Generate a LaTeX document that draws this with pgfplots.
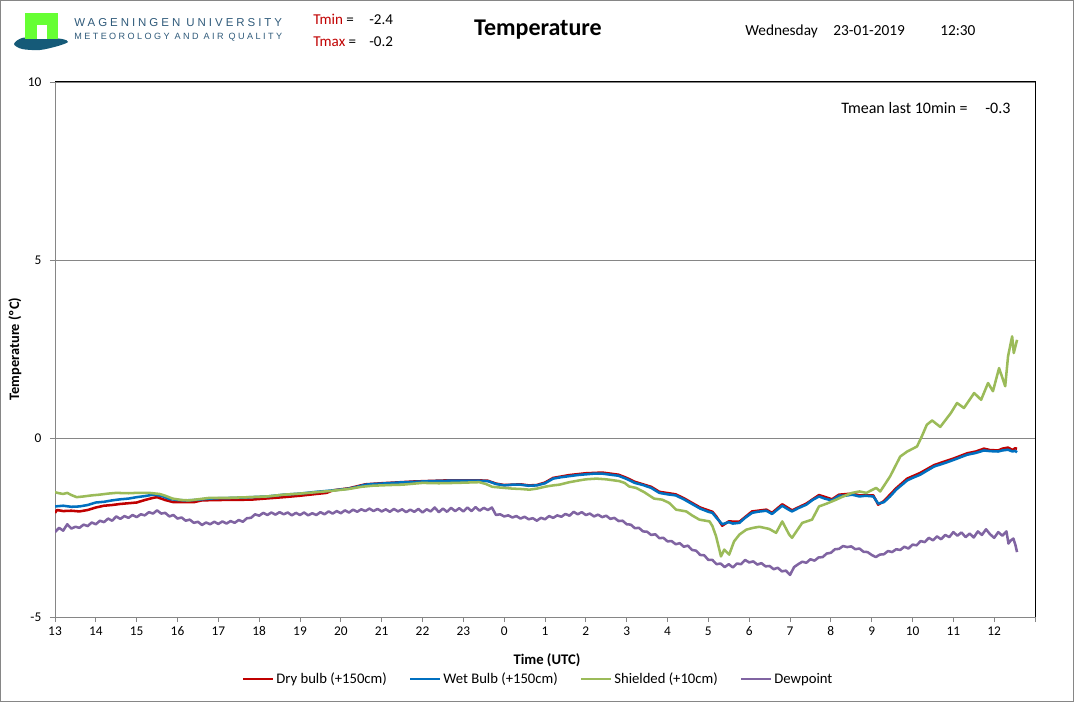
\documentclass[border=0pt]{standalone}
\usepackage{fontspec}
\setmainfont{Carlito}
\newfontfamily\wurfont[LetterSpace=26]{Liberation Sans}
\newfontfamily\wursmall[LetterSpace=27]{Liberation Sans}
\usepackage{pgfplots}
\pgfplotsset{compat=1.18}
\definecolor{dryc}{HTML}{C00000}
\definecolor{wetc}{HTML}{0070C0}
\definecolor{shc}{HTML}{9BBB59}
\definecolor{dewc}{HTML}{8064A2}
\definecolor{gridc}{HTML}{868686}
\definecolor{logog}{HTML}{66FF33}
\definecolor{logob}{HTML}{155A78}
\definecolor{wurtext}{HTML}{2F5A7A}
\begin{document}
\begin{tikzpicture}
\begin{scope}[x=0.75pt,y=-0.75pt]
\draw[gridc, line width=0.75pt] (0.5,0.5) rectangle (1073.5,701.5);
% logo
\fill[logob] plot[smooth cycle] coordinates {(14,44) (22,38) (40,37) (62,39) (68,42) (58,46) (40,50) (22,49)};
\fill[logog] (25,13) rectangle (58,39);
\fill[white] (37,25) rectangle (47,39.5);
\node[anchor=base west, inner sep=0pt, text=wurtext] at (74,27) {\wurfont\fontsize{8.6}{10}\selectfont WAGENINGEN UNIVERSITY};
\node[anchor=base west, inner sep=0pt, text=wurtext] at (74,39.5) {\wursmall\fontsize{6.8}{8}\selectfont METEOROLOGY AND AIR QUALITY};
\node[anchor=base west, inner sep=0pt] at (313,25) {\fontsize{11.3}{13}\selectfont\textcolor{dryc}{Tmin} =};
\node[anchor=base west, inner sep=0pt] at (369,25) {\fontsize{11.3}{13}\selectfont -2.4};
\node[anchor=base west, inner sep=0pt] at (313,47) {\fontsize{11.3}{13}\selectfont\textcolor{dryc}{Tmax} =};
\node[anchor=base west, inner sep=0pt] at (369,47) {\fontsize{11.3}{13}\selectfont -0.2};
\node[anchor=base, inner sep=0pt] at (538,36) {\fontsize{18}{20}\selectfont\bfseries Temperature};
\node[anchor=base west, inner sep=0pt] at (745,36) {\fontsize{11.5}{13}\selectfont Wednesday};
\node[anchor=base west, inner sep=0pt] at (833,36) {\fontsize{11.5}{13}\selectfont 23-01-2019};
\node[anchor=base west, inner sep=0pt] at (940,36) {\fontsize{11.5}{13}\selectfont 12:30};
\end{scope}
\begin{axis}[
  at={(41.25pt,-462.75pt)}, anchor=south west,
  scale only axis, width=735pt, height=401.25pt,
  xmin=0, xmax=24, ymin=-5, ymax=10,
  axis x line*=bottom, axis y line*=left,
  axis line style={gridc, line width=0.75pt, -},
  xtick={0,...,24},
  xticklabels={13,14,15,16,17,18,19,20,21,22,23,0,1,2,3,4,5,6,7,8,9,10,11,12,{}},
  ytick={-5,0,5,10},
  yticklabels={-5,0,5,10},
  ymajorgrids, grid style={gridc, line width=0.75pt},
  major tick style={gridc, line width=0.75pt},
  tick align=outside, major tick length=3.75pt,
  ticklabel style={font=\fontsize{10}{12}\selectfont},
  yticklabel style={xshift=-3pt},
  xlabel={Time (UTC)}, ylabel={Temperature (ºC)},
  every axis x label/.style={at={(axis description cs:0.502,-0.080)}, anchor=center, font=\bfseries\fontsize{11}{13}\selectfont},
  every axis y label/.style={at={(axis description cs:-0.041,0.501)}, rotate=90, anchor=center, font=\bfseries\fontsize{10.8}{13}\selectfont},
  legend columns=4,
  legend style={at={(axis description cs:0.493,-0.116)}, anchor=center, draw=none, fill=none,
    font=\fontsize{11}{13}\selectfont, nodes={inner sep=1.5pt},
    /tikz/every even column/.append style={column sep=15pt}},
  legend image code/.code={\draw[#1] (0pt,0pt) -- (22.5pt,0pt);},
  every axis plot/.append style={line width=1.9pt, line join=round},
]
\addplot[dryc] coordinates {(0,-2.08)(0.05,-2.00)(0.2,-2.03)(0.4,-2.02)(0.6,-2.04)(0.8,-2.00)(1.0,-1.93)(1.2,-1.88)(1.4,-1.86)(1.6,-1.83)(1.8,-1.81)(2.0,-1.79)(2.2,-1.72)(2.4,-1.66)(2.5,-1.64)(2.7,-1.72)(2.9,-1.78)(3.1,-1.78)(3.4,-1.78)(3.6,-1.73)(4.0,-1.72)(4.8,-1.71)(5.6,-1.64)(6.0,-1.60)(6.4,-1.55)(6.65,-1.52)(6.8,-1.45)(7.2,-1.39)(7.6,-1.28)(8.0,-1.25)(8.8,-1.20)(9.6,-1.17)(10.4,-1.17)(10.6,-1.18)(10.8,-1.26)(11.0,-1.30)(11.4,-1.28)(11.6,-1.31)(11.8,-1.30)(12.0,-1.23)(12.2,-1.10)(12.6,-1.02)(13.0,-0.97)(13.4,-0.95)(13.8,-1.01)(14.0,-1.10)(14.2,-1.21)(14.6,-1.35)(14.8,-1.49)(15.2,-1.56)(15.4,-1.67)(15.8,-1.93)(16.1,-2.05)(16.2,-2.19)(16.34,-2.44)(16.5,-2.32)(16.76,-2.33)(17.07,-2.04)(17.42,-1.99)(17.56,-2.08)(17.81,-1.84)(18.05,-2.01)(18.4,-1.82)(18.71,-1.58)(19.03,-1.70)(19.2,-1.57)(19.52,-1.54)(19.7,-1.59)(20.04,-1.59)(20.16,-1.85)(20.3,-1.75)(20.6,-1.39)(20.87,-1.12)(21.19,-0.96)(21.53,-0.74)(22.02,-0.55)(22.34,-0.41)(22.55,-0.36)(22.75,-0.28)(22.9,-0.32)(23.1,-0.33)(23.2,-0.28)(23.34,-0.25)(23.45,-0.32)(23.51,-0.27)(23.56,-0.28)};
\addlegendentry{Dry bulb (+150cm)}
\addplot[wetc] coordinates {(0,-1.90)(0.2,-1.88)(0.4,-1.91)(0.6,-1.90)(0.8,-1.86)(1.0,-1.79)(1.2,-1.77)(1.4,-1.73)(1.6,-1.70)(1.8,-1.68)(2.0,-1.64)(2.2,-1.61)(2.4,-1.57)(2.6,-1.60)(2.8,-1.69)(3.0,-1.72)(3.2,-1.73)(3.4,-1.72)(3.6,-1.70)(3.8,-1.68)(4.0,-1.67)(4.4,-1.66)(4.8,-1.64)(5.2,-1.62)(5.6,-1.57)(6.0,-1.54)(6.4,-1.49)(6.8,-1.45)(7.2,-1.40)(7.4,-1.35)(7.6,-1.29)(7.8,-1.27)(8.0,-1.26)(8.4,-1.23)(8.8,-1.21)(9.2,-1.19)(9.6,-1.18)(10.0,-1.18)(10.4,-1.18)(10.6,-1.19)(10.8,-1.27)(11.0,-1.31)(11.2,-1.29)(11.4,-1.29)(11.6,-1.32)(11.8,-1.31)(12.0,-1.25)(12.2,-1.12)(12.4,-1.08)(12.6,-1.05)(12.8,-1.02)(13.0,-1.00)(13.2,-0.98)(13.4,-0.98)(13.6,-1.01)(13.8,-1.04)(14.0,-1.13)(14.2,-1.24)(14.4,-1.30)(14.6,-1.38)(14.8,-1.52)(15.0,-1.56)(15.2,-1.59)(15.4,-1.70)(15.6,-1.83)(15.8,-1.96)(16.0,-2.05)(16.1,-2.08)(16.2,-2.22)(16.34,-2.40)(16.5,-2.34)(16.6,-2.38)(16.76,-2.36)(16.9,-2.22)(17.07,-2.08)(17.2,-2.05)(17.42,-2.02)(17.56,-2.11)(17.7,-1.98)(17.81,-1.88)(17.95,-1.98)(18.05,-2.04)(18.2,-1.95)(18.4,-1.85)(18.55,-1.72)(18.71,-1.62)(18.85,-1.68)(19.03,-1.73)(19.2,-1.60)(19.35,-1.60)(19.52,-1.57)(19.7,-1.62)(19.85,-1.60)(20.04,-1.62)(20.16,-1.82)(20.3,-1.78)(20.45,-1.62)(20.6,-1.43)(20.87,-1.17)(21.0,-1.10)(21.19,-1.01)(21.35,-0.90)(21.53,-0.78)(21.8,-0.68)(22.02,-0.59)(22.2,-0.51)(22.34,-0.45)(22.55,-0.40)(22.75,-0.33)(22.9,-0.35)(23.1,-0.36)(23.2,-0.33)(23.34,-0.31)(23.45,-0.36)(23.51,-0.34)(23.56,-0.38)};
\addlegendentry{Wet Bulb (+150cm)}
\addplot[shc] coordinates {(0.0,-1.50)(0.1,-1.53)(0.2,-1.55)(0.3,-1.52)(0.4,-1.58)(0.53,-1.64)(0.7,-1.62)(0.9,-1.59)(1.09,-1.57)(1.3,-1.54)(1.5,-1.52)(1.8,-1.53)(2.0,-1.52)(2.31,-1.52)(2.56,-1.55)(2.7,-1.60)(2.88,-1.68)(3.1,-1.72)(3.29,-1.73)(3.5,-1.70)(3.78,-1.66)(4.2,-1.66)(4.76,-1.64)(5.2,-1.62)(5.6,-1.57)(6.0,-1.54)(6.4,-1.50)(6.8,-1.46)(7.2,-1.41)(7.5,-1.35)(7.77,-1.32)(8.2,-1.30)(8.51,-1.29)(9.0,-1.24)(9.4,-1.25)(9.83,-1.24)(10.1,-1.23)(10.39,-1.22)(10.55,-1.27)(10.71,-1.35)(10.9,-1.37)(11.2,-1.40)(11.4,-1.41)(11.62,-1.43)(11.8,-1.40)(12.03,-1.34)(12.2,-1.31)(12.35,-1.29)(12.6,-1.22)(12.84,-1.17)(13.0,-1.14)(13.26,-1.12)(13.5,-1.14)(13.82,-1.19)(13.95,-1.24)(14.06,-1.34)(14.23,-1.38)(14.43,-1.50)(14.67,-1.68)(14.87,-1.71)(15.04,-1.80)(15.21,-1.99)(15.46,-2.04)(15.6,-2.15)(15.78,-2.27)(16.03,-2.32)(16.1,-2.45)(16.19,-2.74)(16.31,-3.30)(16.39,-3.11)(16.45,-3.18)(16.51,-3.25)(16.63,-2.88)(16.76,-2.69)(16.93,-2.55)(17.1,-2.50)(17.25,-2.47)(17.49,-2.53)(17.66,-2.64)(17.81,-2.32)(17.98,-2.69)(18.05,-2.78)(18.3,-2.36)(18.54,-2.27)(18.71,-1.90)(18.9,-1.82)(19.13,-1.71)(19.3,-1.62)(19.52,-1.52)(19.7,-1.48)(19.87,-1.52)(20.11,-1.38)(20.21,-1.48)(20.45,-1.06)(20.70,-0.50)(20.87,-0.36)(21.11,-0.22)(21.23,0.07)(21.35,0.39)(21.48,0.51)(21.68,0.33)(21.94,0.72)(22.09,1.00)(22.26,0.86)(22.51,1.28)(22.68,1.09)(22.85,1.56)(22.97,1.33)(23.12,1.98)(23.27,1.47)(23.34,2.31)(23.44,2.87)(23.48,2.40)(23.56,2.77)};
\addlegendentry{Shielded (+10cm)}
\addplot[dewc] coordinates {(0.0,-2.62)(0.1,-2.50)(0.2,-2.58)(0.3,-2.40)(0.4,-2.52)(0.5,-2.47)(0.6,-2.50)(0.7,-2.41)(0.8,-2.45)(0.9,-2.35)(1.0,-2.40)(1.1,-2.30)(1.2,-2.34)(1.3,-2.24)(1.4,-2.30)(1.5,-2.18)(1.6,-2.25)(1.7,-2.17)(1.8,-2.22)(1.9,-2.14)(2.0,-2.20)(2.1,-2.12)(2.2,-2.15)(2.3,-2.06)(2.4,-2.10)(2.5,-2.01)(2.6,-2.10)(2.7,-2.08)(2.8,-2.18)(2.9,-2.14)(3.0,-2.24)(3.1,-2.21)(3.2,-2.30)(3.3,-2.27)(3.4,-2.36)(3.5,-2.33)(3.6,-2.42)(3.7,-2.35)(3.8,-2.40)(3.9,-2.33)(4.0,-2.39)(4.1,-2.32)(4.2,-2.38)(4.3,-2.31)(4.4,-2.36)(4.5,-2.28)(4.6,-2.33)(4.7,-2.23)(4.8,-2.22)(4.9,-2.12)(5.0,-2.16)(5.1,-2.08)(5.2,-2.14)(5.3,-2.07)(5.4,-2.13)(5.5,-2.06)(5.6,-2.12)(5.7,-2.07)(5.8,-2.15)(5.9,-2.08)(6.0,-2.14)(6.1,-2.07)(6.2,-2.15)(6.3,-2.09)(6.4,-2.14)(6.5,-2.06)(6.6,-2.12)(6.7,-2.04)(6.8,-2.10)(6.9,-2.03)(7.0,-2.09)(7.1,-2.01)(7.2,-2.07)(7.3,-1.99)(7.4,-2.05)(7.5,-1.98)(7.6,-2.03)(7.7,-1.96)(7.8,-2.03)(7.9,-1.97)(8.0,-2.04)(8.1,-1.98)(8.2,-2.05)(8.3,-1.97)(8.4,-2.04)(8.5,-1.98)(8.6,-2.06)(8.7,-1.99)(8.8,-2.05)(8.9,-1.97)(9.0,-2.07)(9.1,-1.98)(9.2,-2.04)(9.3,-1.93)(9.4,-2.06)(9.5,-1.96)(9.6,-2.05)(9.7,-1.94)(9.8,-2.03)(9.9,-1.95)(10.0,-2.04)(10.1,-1.93)(10.2,-2.03)(10.3,-1.92)(10.4,-2.02)(10.5,-1.94)(10.6,-2.00)(10.7,-1.93)(10.8,-2.14)(10.9,-2.12)(11.0,-2.18)(11.1,-2.15)(11.2,-2.21)(11.3,-2.17)(11.4,-2.24)(11.5,-2.19)(11.6,-2.26)(11.7,-2.23)(11.8,-2.30)(11.9,-2.22)(12.0,-2.26)(12.1,-2.17)(12.2,-2.22)(12.3,-2.15)(12.4,-2.19)(12.5,-2.11)(12.6,-2.16)(12.7,-2.05)(12.8,-2.12)(12.9,-2.06)(13.0,-2.14)(13.1,-2.10)(13.2,-2.18)(13.3,-2.13)(13.4,-2.20)(13.5,-2.16)(13.6,-2.25)(13.7,-2.22)(13.8,-2.31)(13.9,-2.30)(14.0,-2.40)(14.1,-2.41)(14.2,-2.51)(14.3,-2.50)(14.4,-2.60)(14.5,-2.61)(14.6,-2.70)(14.7,-2.68)(14.8,-2.79)(14.9,-2.78)(15.0,-2.88)(15.1,-2.87)(15.2,-2.96)(15.3,-2.93)(15.4,-3.03)(15.5,-3.00)(15.6,-3.12)(15.7,-3.14)(15.8,-3.26)(15.9,-3.27)(16.0,-3.40)(16.1,-3.40)(16.2,-3.52)(16.3,-3.50)(16.4,-3.60)(16.5,-3.52)(16.6,-3.61)(16.7,-3.50)(16.8,-3.52)(16.9,-3.40)(17.0,-3.47)(17.1,-3.44)(17.2,-3.53)(17.3,-3.49)(17.4,-3.58)(17.5,-3.57)(17.6,-3.66)(17.7,-3.62)(17.8,-3.72)(17.9,-3.70)(18.0,-3.82)(18.1,-3.60)(18.2,-3.52)(18.3,-3.45)(18.4,-3.48)(18.5,-3.38)(18.6,-3.42)(18.7,-3.33)(18.8,-3.32)(18.9,-3.22)(19.0,-3.20)(19.1,-3.10)(19.2,-3.09)(19.3,-3.01)(19.4,-3.04)(19.5,-3.02)(19.6,-3.10)(19.7,-3.08)(19.8,-3.17)(19.9,-3.18)(20.0,-3.26)(20.1,-3.32)(20.2,-3.25)(20.3,-3.24)(20.4,-3.15)(20.5,-3.18)(20.6,-3.10)(20.7,-3.12)(20.8,-3.03)(20.9,-3.08)(21.0,-2.97)(21.1,-2.99)(21.2,-2.87)(21.3,-2.90)(21.4,-2.78)(21.5,-2.85)(21.6,-2.74)(21.7,-2.82)(21.8,-2.70)(21.9,-2.76)(22.0,-2.62)(22.1,-2.72)(22.2,-2.63)(22.3,-2.76)(22.4,-2.66)(22.5,-2.77)(22.6,-2.60)(22.7,-2.70)(22.8,-2.54)(22.9,-2.68)(23.0,-2.78)(23.1,-2.62)(23.2,-2.72)(23.3,-2.60)(23.35,-2.94)(23.4,-2.86)(23.47,-2.80)(23.52,-2.98)(23.56,-3.18)};
\addlegendentry{Dewpoint}
\end{axis}
\begin{scope}[x=0.75pt,y=-0.75pt]
\draw[black, line width=0.75pt] (55,82) -- (1035.5,82) -- (1035.5,617);
\node[anchor=base west, inner sep=0pt] at (841,114) {\fontsize{12}{14}\selectfont Tmean last 10min =};
\node[anchor=base west, inner sep=0pt] at (985,114) {\fontsize{12}{14}\selectfont -0.3};
\end{scope}
\end{tikzpicture}
\end{document}
